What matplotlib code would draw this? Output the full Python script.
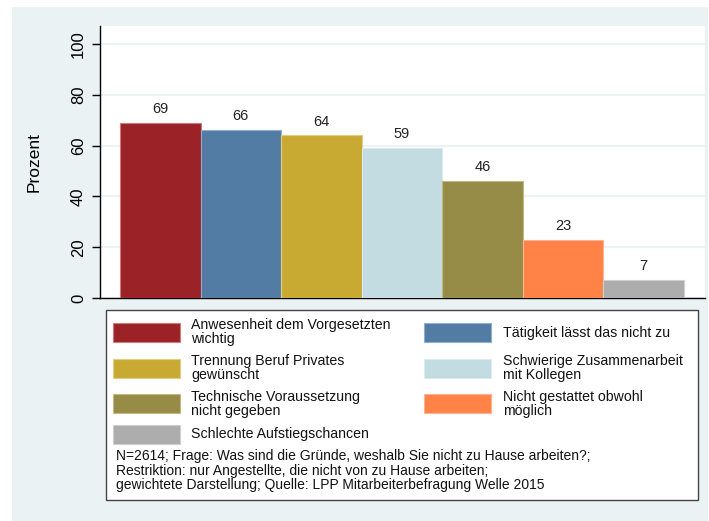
import numpy as np
import matplotlib.pyplot as plt
from matplotlib.patches import Rectangle

plt.rcParams['font.family'] = ['Liberation Sans', 'DejaVu Sans']

labels = [
    "Anwesenheit dem Vorgesetzten\nwichtig",
    "Tätigkeit lässt das nicht zu",
    "Trennung Beruf Privates\ngewünscht",
    "Schwierige Zusammenarbeit\nmit Kollegen",
    "Technische Voraussetzung\nnicht gegeben",
    "Nicht gestattet obwohl\nmöglich",
    "Schlechte Aufstiegschancen",
]
values = [69, 66, 64, 59, 46, 23, 7]
colors = ["#9B2327", "#527CA4", "#C8A932", "#C2DCE1", "#968C47", "#FF8346", "#ADADAD"]
edges = ["#D07A7C", "#8FAFCC", "#E2CE82", "#DCEBEE", "#C2BA86", "#FFB48F", "#CFCFCF"]
yticks = [0, 20, 40, 60, 80, 100]
note = ("N=2614; Frage: Was sind die Gründe, weshalb Sie nicht zu Hause arbeiten?;\n"
        "Restriktion: nur Angestellte, die nicht von zu Hause arbeiten;\n"
        "gewichtete Darstellung; Quelle: LPP Mitarbeiterbefragung Welle 2015")

W, H = 709, 521
fig = plt.figure(figsize=(W / 100, H / 100), dpi=100, facecolor='white')


def fx(x):
    return x / W


def fy(y):
    return 1 - y / H


# light panel behind everything
fig.add_artist(Rectangle((fx(12), 0), fx(708) - fx(12), fy(7), transform=fig.transFigure,
                         facecolor='#EAF2F3', edgecolor='none', zorder=0))

ax = fig.add_axes([fx(100), fy(298), fx(705) - fx(100), fy(26) - fy(298)])
ax.set_facecolor('white')
ax.set_zorder(1)

x = np.arange(len(values))
ax.bar(x, values, width=1.0, color=colors, edgecolor=edges, linewidth=0.8, zorder=3)
for xi, v in zip(x, values):
    ax.annotate(f"{v}", (xi, v), xytext=(0, 5), textcoords='offset points',
                ha='center', va='bottom', fontsize=10.5, color='#222222', zorder=4)

ax.set_xlim(-0.748, 6.76)
ax.set_ylim(0, 107.1)
ax.set_yticks(yticks)
ax.set_yticklabels([str(t) for t in yticks], rotation=90, va='center', fontsize=12)
ax.tick_params(axis='y', length=6, width=1, pad=4)
ax.set_xticks([])
ax.yaxis.grid(True, color='#EAF2F3', linewidth=1.3, zorder=0)
ax.set_axisbelow(True)
for s in ('top', 'right'):
    ax.spines[s].set_visible(False)
ax.spines['left'].set_linewidth(1.0)
ax.spines['bottom'].set_linewidth(1.0)
ax.set_ylabel("Prozent", fontsize=12.5)
ax.yaxis.set_label_coords((42 - 100) / (705 - 100), 0.5)

# legend box with notes
fig.add_artist(Rectangle((fx(106), fy(500)), fx(698) - fx(106), fy(310) - fy(500),
                         transform=fig.transFigure, facecolor='white',
                         edgecolor='#444444', linewidth=1.0, zorder=2))
row_y = [332.5, 368, 403.5, 434]
col_x = [(113, 191), (424, 503)]
for i, (lab, c) in enumerate(zip(labels, colors)):
    r, col = divmod(i, 2)
    sx, tx = col_x[col]
    cy = row_y[r]
    fig.add_artist(Rectangle((fx(sx), fy(cy + 9.5)), fx(sx + 67) - fx(sx), fy(cy - 9.5) - fy(cy + 9.5),
                             transform=fig.transFigure, facecolor=c, edgecolor=edges[i],
                             linewidth=0.8, zorder=3))
    fig.text(fx(tx), fy(cy), lab, ha='left', va='center', fontsize=10.2,
             linespacing=1.0, color='#111111', zorder=3)

fig.text(fx(116), fy(470.5), note, ha='left', va='center', fontsize=10,
         linespacing=1.05, color='#111111', zorder=3)

fig.savefig("out.png", dpi=100, facecolor='white')
